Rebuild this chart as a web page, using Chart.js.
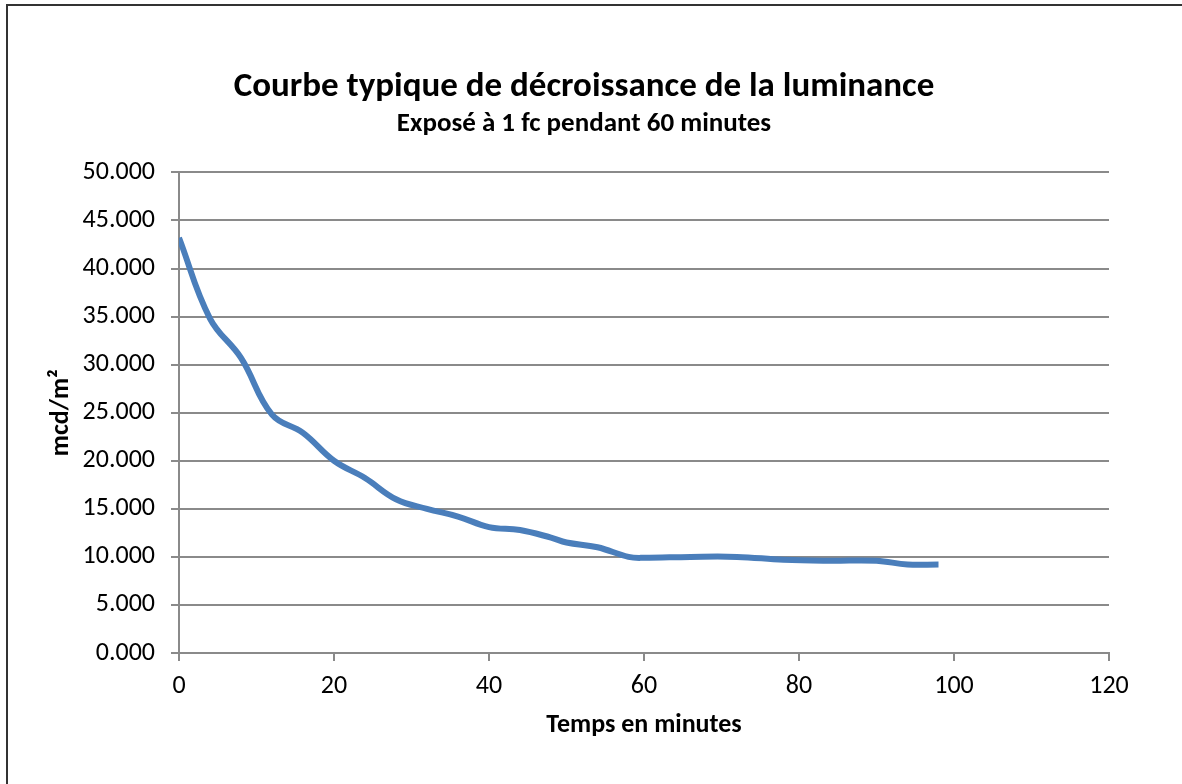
<!DOCTYPE html>
<html>
<head>
    <title>Courbe de décroissance</title>
    <script src="https://cdn.jsdelivr.net/npm/chart.js"></script>
    <style>
        body {
            margin: 0;
            padding: 0;
            background: #fff;
            width: 1182px;
            height: 784px;
            overflow: hidden;
            position: relative;
        }
        #frame {
            position: absolute;
            left: 6px;
            top: 4px;
            width: 1300px;
            height: 900px;
            border-left: 2px solid #333;
            border-top: 2px solid #333;
        }
        #chart-wrapper {
            position: absolute;
            left: 8px;
            top: 0;
            width: 1152px;
            height: 784px;
        }
    </style>
</head>
<body>

<div id="frame"></div>
<div id="chart-wrapper">
  <canvas id="decayChart" width="1152" height="784"></canvas>
</div>

<script>
// minutes
const minutes = [0, 4, 8, 12, 16, 20, 24, 28, 32, 36, 40, 44, 48, 50, 54, 58, 60, 66, 72, 78, 84, 90, 94, 98];
// luminance, mcd/m2
const luminance = [43.2, 34.8, 30.7, 24.8, 22.9, 20.0, 18.2, 16.0, 15.0, 14.2, 13.1, 12.8, 12.0, 11.5, 11.0, 10.0, 9.9, 10.0, 10.0, 9.7, 9.6, 9.6, 9.2, 9.2];
const xTicks = [0, 20, 40, 60, 80, 100, 120];
const yTicks = [0, 5, 10, 15, 20, 25, 30, 35, 40, 45, 50];

const fontFamily = "Carlito, Calibri, 'Liberation Sans Narrow', 'Open Sans', sans-serif";
const gridColor = '#8a8a8a';

const points = minutes.map((m, i) => ({ x: m, y: luminance[i] }));

const ctx = document.getElementById('decayChart').getContext('2d');
const decayChart = new Chart(ctx, {
    type: 'line',
    data: {
        datasets: [{
            data: points,
            borderColor: '#4a7ebb',
            borderWidth: 6,
            pointRadius: 0,
            tension: 0.4,
            fill: false
        }]
    },
    options: {
        responsive: false,
        animation: false,
        // equal side padding keeps the titles centred where the original has them
        layout: { padding: { left: 51, right: 51, top: 0, bottom: 0 } },
        plugins: {
            legend: { display: false },
            tooltip: { enabled: false },
            title: {
                display: true,
                text: 'Courbe typique de décroissance de la luminance',
                color: '#000',
                font: { family: fontFamily, size: 35, weight: 'bold' },
                padding: { top: 66, bottom: 0 }
            },
            subtitle: {
                display: true,
                text: 'Exposé à 1 fc pendant 60 minutes',
                color: '#000',
                font: { family: fontFamily, size: 27, weight: 'bold' },
                padding: { top: 0, bottom: 32 }
            }
        },
        scales: {
            x: {
                type: 'linear',
                min: 0,
                max: 120,
                afterFit: (scale) => { scale.height = 131; },
                afterBuildTicks: (scale) => { scale.ticks = xTicks.map(v => ({ value: v })); },
                ticks: {
                    color: '#000',
                    font: { family: fontFamily, size: 26 },
                    padding: 10,
                    maxRotation: 0
                },
                grid: {
                    drawOnChartArea: false,
                    drawTicks: true,
                    tickLength: 8,
                    color: gridColor,
                    lineWidth: 2
                },
                border: { color: gridColor, width: 2 },
                title: {
                    display: true,
                    text: 'Temps en minutes',
                    color: '#000',
                    font: { family: fontFamily, size: 26, weight: 'bold' },
                    padding: { top: 0, bottom: 43 }
                }
            },
            y: {
                min: 0,
                max: 50,
                afterFit: (scale) => { scale.width = 120; },
                afterBuildTicks: (scale) => { scale.ticks = yTicks.map(v => ({ value: v })); },
                ticks: {
                    color: '#000',
                    font: { family: fontFamily, size: 26 },
                    padding: 16,
                    callback: (v) => v.toFixed(3)
                },
                grid: {
                    drawTicks: true,
                    tickLength: 8,
                    color: gridColor,
                    lineWidth: 2
                },
                border: { color: gridColor, width: 2 },
                title: {
                    display: true,
                    text: 'mcd/m²',
                    color: '#000',
                    font: { family: fontFamily, size: 26, weight: 'bold' },
                    padding: { top: -13, bottom: 0 }
                }
            }
        }
    }
});
</script>

</body>
</html>
